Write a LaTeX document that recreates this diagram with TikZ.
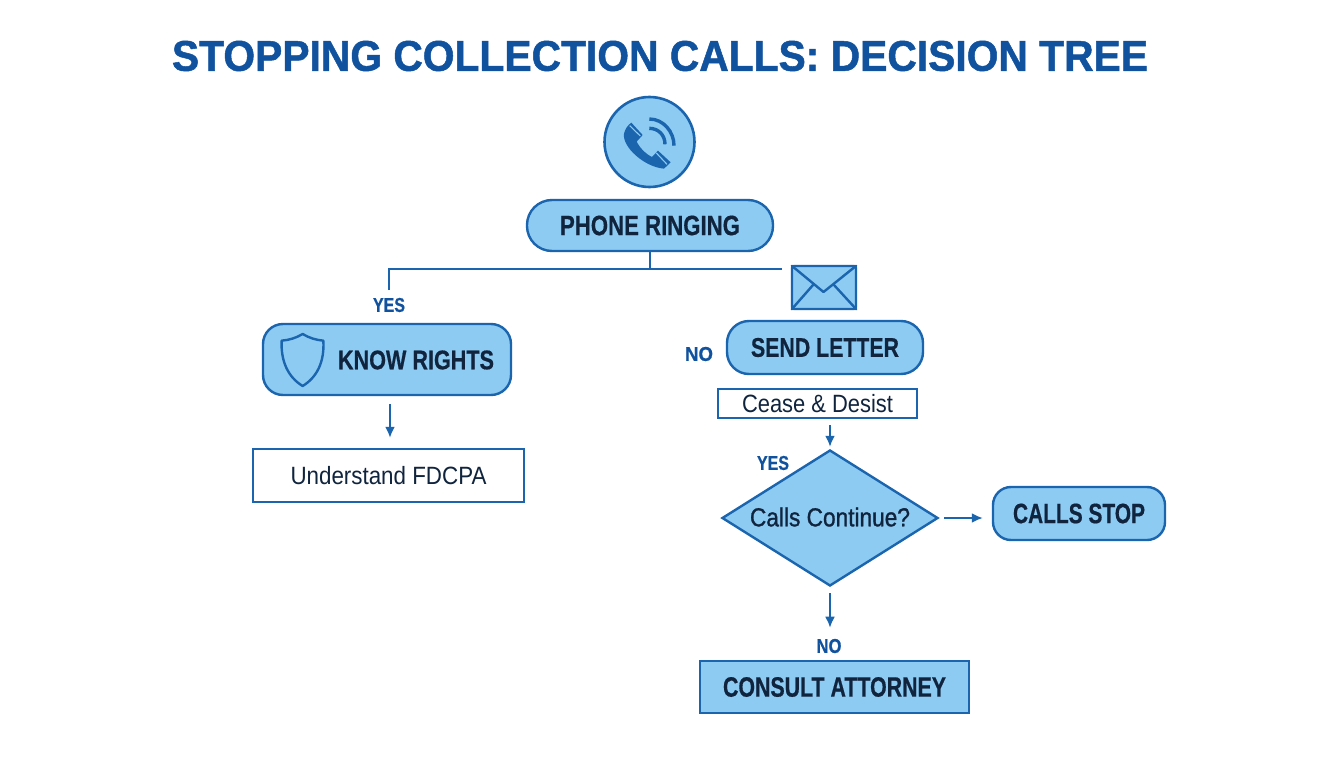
\documentclass[tikz,border=0pt]{standalone}
\usepackage{fontspec}
\usepackage{graphicx}
\setmainfont[BoldFeatures={FakeBold=0.6}]{Liberation Sans}
\newfontfamily\medf[FakeBold=1.2]{Liberation Sans}
\newfontfamily\titlef[BoldFeatures={FakeBold=1.2}]{Liberation Sans}
\usetikzlibrary{shapes.geometric,shapes.misc,arrows.meta,calc}
\definecolor{edgeblue}{HTML}{1B65AE}
\definecolor{fillblue}{HTML}{8DCBF3}
\definecolor{titleblue}{HTML}{10529E}
\definecolor{inkdark}{HTML}{10243E}
\newcommand{\fitw}[3]{\fontsize{#2}{#2}\selectfont\resizebox{#1pt}{\height}{#3}}
\tikzset{
  boxbase/.style={draw=edgeblue,line width=2.4pt,inner sep=0pt,text=inkdark,font=\bfseries},
  pill/.style={boxbase,fill=fillblue,rounded corners=#1},
  pill/.default=20pt,
  plainbox/.style={draw=edgeblue,line width=2.4pt,fill=white,inner sep=0pt,text=inkdark},
  flatbox/.style={boxbase,fill=fillblue},
  tag/.style={inner sep=0pt,text=titleblue,font=\bfseries},
  conn/.style={draw=edgeblue,line width=2pt},
  arr/.style={conn,-{Latex[length=11pt,width=10pt]}},
  icon/.style={draw=edgeblue,line width=2.4pt,line join=round,line cap=round}
}
\begin{document}
\begin{tikzpicture}[x=1pt,y=-1pt]
\useasboundingbox (0,0) rectangle (1344,768);
\fill[white] (0,0) rectangle (1344,768);

\node[inner sep=0pt,text=titleblue,font=\titlef\bfseries] (title) at (660,56) {\fitw{976}{43}{STOPPING COLLECTION CALLS: DECISION TREE}};

% phone badge
\node[circle,draw=edgeblue,line width=2.6pt,fill=fillblue,minimum size=90pt,inner sep=0pt] (badge) at (649.5,142) {};
\begin{scope}[shift={(520pt,-85pt)},x=0.33333pt,y=-0.33333pt]
  \fill[edgeblue] (334,113) -- (368,150) -- (350,170)
    .. controls (362,192) and (375,205) .. (396,216)
    -- (414,197) -- (452,232) -- (432,251)
    .. controls (372,246) and (306,185) .. (312,146)
    .. controls (315,132) and (323,121) .. (334,113) -- cycle;
  \draw[fillblue,line width=1.1pt] (329,122) -- (361,153);
  \draw[fillblue,line width=1.1pt] (409,204) -- (441,238);
  \draw[edgeblue,line width=3.4pt] (388,130) .. controls (415,130) and (435,150) .. (435,178);
  \draw[edgeblue,line width=3.4pt] (388,102) .. controls (430,102) and (462,140) .. (462,182);
\end{scope}

\node[pill=25pt,minimum width=246pt,minimum height=51pt] (phone) at (650,225.5) {\fitw{180}{28}{PHONE RINGING}};

% envelope
\node[draw=edgeblue,line width=2.4pt,fill=fillblue,rounded corners=2pt,minimum width=64pt,minimum height=43pt,inner sep=0pt] (env) at (824,287.5) {};
\draw[icon] ([shift={(1pt,-1pt)}]env.north west) -- (823.5,292) -- ([shift={(-1pt,-1pt)}]env.north east);
\draw[icon] ([shift={(1pt,1pt)}]env.south west) -- (813,285);
\draw[icon] ([shift={(-1pt,1pt)}]env.south east) -- (834,285);

% left branch
\node[tag] (yesa) at (389,305) {\fitw{32}{20}{YES}};
\node[pill=20pt,minimum width=248pt,minimum height=71pt] (know) at (387,359.5) {};
\node[boxbase,draw=none,fill=none] (knowt) at (416,360) {\fitw{156}{27}{KNOW RIGHTS}};
\begin{scope}[shift={(240pt,-260pt)},x=0.33333pt,y=-0.33333pt]
  \draw[icon] (188,222) .. controls (168,234) and (148,240) .. (125,242)
    .. controls (122,305) and (145,352) .. (188,378)
    .. controls (231,352) and (254,305) .. (250,242)
    .. controls (228,240) and (208,234) .. (188,222) -- cycle;
\end{scope}
\node[plainbox,minimum width=271pt,minimum height=53pt] (fdcpa) at (388.5,475.5) {\fitw{196}{25}{Understand FDCPA}};

% right branch
\node[tag] (noa) at (699,354) {\fitw{28}{20}{NO}};
\node[pill=22pt,minimum width=196pt,minimum height=53pt] (send) at (825,347.5) {\fitw{148}{27}{SEND LETTER}};
\node[plainbox,minimum width=199pt,minimum height=29pt] (cease) at (817.5,403.5) {\fitw{151}{25}{Cease \& Desist}};
\node[tag] (yesb) at (773,463) {\fitw{32}{20}{YES}};
\node[diamond,draw=edgeblue,line width=2.4pt,fill=fillblue,minimum width=216pt,minimum height=136pt,inner sep=0pt,aspect=1.59] (cont) at (830,518) {};
\node[inner sep=0pt,text=inkdark,font=\medf] (contt) at (830,517) {\fitw{160}{26}{Calls Continue?}};
\node[pill=18pt,minimum width=172pt,minimum height=53pt] (stop) at (1079,513.5) {\fitw{132}{28}{CALLS STOP}};
\node[tag] (nob) at (829,646) {\fitw{25}{20}{NO}};
\node[flatbox,minimum width=269pt,minimum height=52pt] (atty) at (834.5,687) {\fitw{223}{28}{CONSULT ATTORNEY}};

% connectors
\coordinate (tee) at (phone.south |- 0,269);
\coordinate (hend) at (782,269);
\draw[conn] (phone.south) -- (tee);
\draw[conn] ([yshift=8pt]yesa.north) |- (hend);
\draw[arr,shorten <=8pt,shorten >=10pt] ([xshift=3pt]know.south) -- ([xshift=1.5pt]fdcpa.north);
\draw[arr,shorten <=6pt,shorten >=2pt] (cease.south -| cont.north) -- (cont.north);
\draw[arr,shorten <=5pt,shorten >=9pt] (cont.east) -- (stop.west |- cont.east);
\draw[arr,shorten <=6pt,shorten >=11pt] (cont.south) -- (nob.north -| cont.south);
\end{tikzpicture}
\end{document}
